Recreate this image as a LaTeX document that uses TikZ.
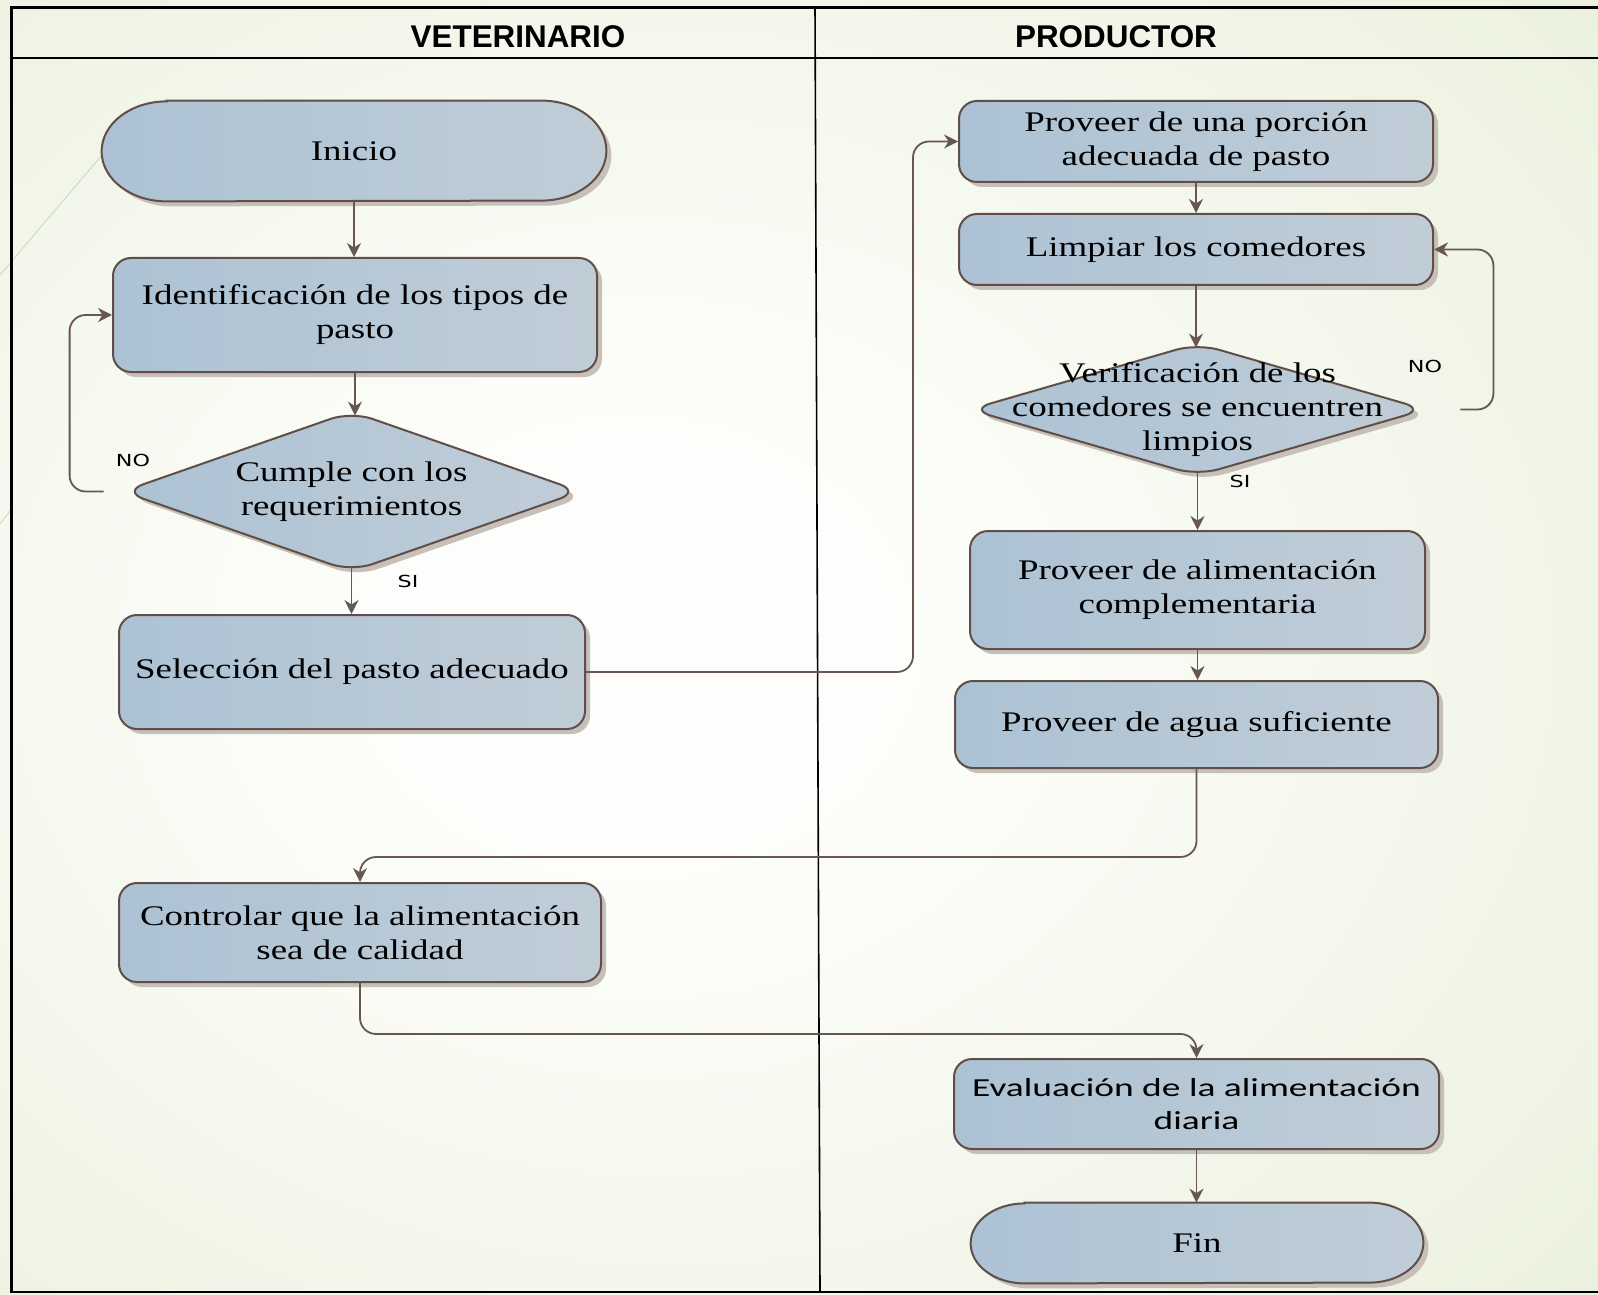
\documentclass[tikz,border=0pt]{standalone}
\usepackage{fontspec}
\setmainfont{Liberation Serif}
\newfontfamily\dserif{Liberation Serif}[FakeStretch=1.3]
\newfontfamily\dsansf{Carlito}[FakeStretch=1.44]
\newfontfamily\lsansf{DejaVu Sans}[FakeStretch=1.34]
\newfontfamily\hsansf{Liberation Sans}
\usetikzlibrary{arrows.meta,shadows,calc}
\definecolor{bgA}{RGB}{253,254,251}
\definecolor{bgB}{RGB}{234,240,220}
\definecolor{bgC}{RGB}{222,232,200}
\definecolor{brd}{RGB}{96,78,72}
\definecolor{lnc}{RGB}{104,86,80}
\definecolor{fillA}{RGB}{172,194,212}
\definecolor{fillB}{RGB}{192,205,215}
\definecolor{shadowc}{RGB}{198,192,184}
\definecolor{faintc}{RGB}{205,212,190}
\pgfdeclareradialshading{bgshade}{\pgfpoint{-6bp}{0bp}}{color(0bp)=(bgA); color(8bp)=(bgA); color(40bp)=(bgB); color(72bp)=(bgC)}
\pgfdeclarelayer{bg}
\pgfdeclarelayer{shplayer}
\pgfsetlayers{bg,shplayer,main}
\newcommand\dtxt{\dserif\fontsize{14.2}{17}\selectfont}
\newcommand\evtxt{\dsansf\fontsize{13}{16.75}\selectfont}
\tikzset{
  shapestyle/.style={draw=brd, line width=1pt, left color=fillA, right color=fillB,
    drop shadow={shadow xshift=2.5pt, shadow yshift=-2.5pt, fill=shadowc, opacity=1}},
  box/.style={shapestyle, rectangle, rounded corners=9pt, align=center, inner sep=2pt, font=\dtxt},
  txt/.style={rectangle, align=center, inner sep=0pt, font=\dtxt},
  conn/.style={draw=lnc, line width=0.9pt, rounded corners=8pt, -{Stealth[length=7pt,width=7pt]}},
  lab/.style={font=\lsansf\fontsize{8.3}{10}\selectfont, inner sep=0pt},
  head/.style={font=\hsansf\bfseries\fontsize{15.7}{18}\selectfont, inner sep=0pt},
  faint/.style={draw=faintc, line width=0.4pt}
}
\begin{document}
\begin{tikzpicture}[x=0.5pt,y=-0.5pt]
\path[use as bounding box] (0,0) rectangle (1598,1294);
\begin{pgfonlayer}{bg}
\shade[shading=bgshade] (0,0) rectangle (1598,1294);
\draw[faint] (125,128) -- (0,275);
\draw[faint] (12,508) -- (0,524);
\draw[black,line width=1.3pt] (1598,7.5) -- (11.5,7.5) -- (11.5,1292) -- (1598,1292);
\draw[black,line width=1pt] (11.5,58) -- (1598,58);
\draw[black,line width=0.8pt] (815,7.5) -- (820,1292);
\end{pgfonlayer}

\node[head] (hv) at (518,37) {VETERINARIO};
\node[head] (hp) at (1116,37) {PRODUCTOR};

% nodes
\node[txt, minimum width=252pt, minimum height=50pt] (ini) at (354,151) {Inicio};
\node[box, minimum width=242pt, minimum height=57pt] (ident) at (355,315) {Identificación de los tipos de\\pasto};
\node[txt, minimum width=215.5pt, minimum height=75.5pt] (cumple) at (351.5,491.5) {Cumple con los\\requerimientos};
\node[box, minimum width=233pt, minimum height=57pt] (selec) at (352,672) {Selección del pasto adecuado};
\node[box, minimum width=237pt, minimum height=40.5pt] (porc) at (1196,141.5) {Proveer de una porción\\adecuada de pasto};
\node[box, minimum width=237pt, minimum height=35.5pt] (limp) at (1196,249.5) {Limpiar los comedores};
\node[txt, minimum width=214.5pt, minimum height=61.5pt] (verif) at (1197.5,409.5) {Verificación de los\\comedores se encuentren\\limpios};
\node[box, minimum width=227.5pt, minimum height=59pt] (compl) at (1197.5,590) {Proveer de alimentación\\complementaria};
\node[box, minimum width=241.5pt, minimum height=43.5pt] (agua) at (1196.5,724.5) {Proveer de agua suficiente};
\node[box, minimum width=241pt, minimum height=49.5pt] (control) at (360,932.5) {Controlar que la alimentación\\sea de calidad};
\node[box, font=\evtxt, minimum width=242.5pt, minimum height=45pt] (eval) at (1196.5,1104) {Evaluación de la alimentación\\diaria};
\node[txt, minimum width=226pt, minimum height=40pt] (fin) at (1197,1243) {Fin};

% custom shapes
\begin{pgfonlayer}{shplayer}
\path[shapestyle] ($(ini.north west)+(65,0)$) -- ($(ini.north east)+(-65,0)$)
  arc[start angle=-90,end angle=90,x radius=65,y radius=50]
  -- ($(ini.south west)+(65,0)$)
  arc[start angle=90,end angle=270,x radius=65,y radius=50] -- cycle;
\path[shapestyle] ($(fin.north west)+(54,0)$) -- ($(fin.north east)+(-54,0)$)
  arc[start angle=-90,end angle=90,x radius=54,y radius=40]
  -- ($(fin.south west)+(54,0)$)
  arc[start angle=90,end angle=270,x radius=54,y radius=40] -- cycle;
\path[shapestyle, rounded corners=11pt] ($(cumple.north)+(0,-4)$) -- ($(cumple.east)+(13,0)$) -- ($(cumple.south)+(0,4)$) -- ($(cumple.west)+(-13,0)$) -- cycle;
\path[shapestyle, rounded corners=11pt] ($(verif.north)+(0,-4)$) -- ($(verif.east)+(13,0)$) -- ($(verif.south)+(0,4)$) -- ($(verif.west)+(-13,0)$) -- cycle;
\end{pgfonlayer}

% helper coordinates
\coordinate (via1) at (913,400);
\coordinate (mid1) at (0,857);
\coordinate (mid2) at (0,1034);

% connectors
\draw[conn] (ini.south) -- (ini.south |- ident.north);
\draw[conn] (ident.south) -- (ident.south |- cumple.north);
\draw[conn] ($(cumple.west)+(-32,0)$) -- ++(-34,0) |- (ident.west);
\draw[conn] (cumple.south) -- (cumple.south |- selec.north);
\draw[conn] (selec.east) -- (selec.east -| via1) |- (porc.west);
\draw[conn] (porc.south) -- (porc.south |- limp.north);
\draw[conn] (limp.south) -- (limp.south |- verif.north);
\draw[conn] ($(verif.east)+(48,0)$) -- ++(33,0) |- (limp.east);
\draw[conn] (verif.south) -- (verif.south |- compl.north);
\draw[conn] (compl.south) -- (compl.south |- agua.north);
\draw[conn] (agua.south) -- (agua.south |- mid1) -| (control.north);
\draw[conn] (control.south) -- (control.south |- mid2) -| (eval.north);
\draw[conn] (eval.south) -- (eval.south |- fin.north);

% labels
\node[lab] (no1) at (133,460) {NO};
\node[lab] (si1) at (408,581) {SI};
\node[lab] (no2) at (1425,366) {NO};
\node[lab] (si2) at (1240,481) {SI};
\end{tikzpicture}
\end{document}
